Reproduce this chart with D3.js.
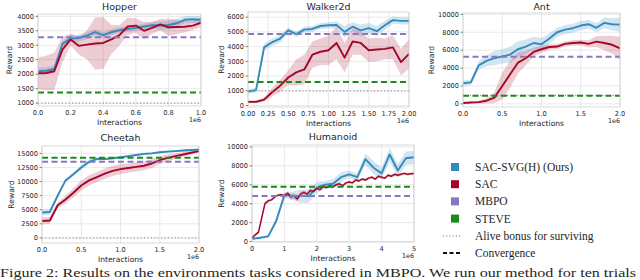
<!DOCTYPE html>
<html>
<head>
  <meta charset="utf-8">
  <script src="https://d3js.org/d3.v7.min.js"></script>
  <style>
    body { margin: 0; background: #fff; }
    svg text { font-family: "DejaVu Sans", sans-serif; fill: #262626; }
    .legend text, .caption { font-family: "Liberation Serif", serif; }
  </style>
</head>
<body>
  <div id="chart"></div>
  <script>
  // ---- data (x in 1e6 interactions) ----
  var hopperX = d3.range(0, 21).map(function(i) { return i * 0.05; });
  var hopperSvg   = [2100,2120,2180,3050,3230,3250,3330,3450,3350,3450,3520,3560,3600,3650,3690,3680,3700,3760,3880,3900,3880];
  var hopperSvgSd = [120,120,120,100,120,120,120,100,100,100,100,100,100,100,120,150,150,150,120,120,120];
  var hopperSac   = [2030,2040,2100,2850,3200,2980,3020,3060,3080,3200,3350,3650,3680,3500,3600,3720,3620,3630,3640,3680,3780];
  var hopperSacSd = [550,600,650,450,200,300,500,900,900,500,350,300,250,300,200,200,300,250,200,150,150];

  var walkerX = d3.range(0, 21).map(function(i) { return i * 0.1; });
  var walkerSvg   = [950,1050,3950,4300,4550,5100,4850,5150,5200,5400,5450,5470,5000,5350,5100,5250,5050,5450,5800,5750,5750];
  var walkerSvgSd = [150,150,250,250,250,200,200,200,200,200,200,250,400,300,400,350,350,300,250,250,250];
  var walkerSac   = [250,250,400,900,1350,1900,2250,2450,3450,3650,3750,4250,3250,4350,4250,3750,3800,3850,3950,2950,3500];
  var walkerSacSd = [100,100,150,300,400,500,900,1000,900,900,1000,1100,1000,900,800,800,800,700,800,900,1000];

  var antX = d3.range(0, 21).map(function(i) { return i * 0.1; });
  var antSvg   = [2300,2400,4300,4800,5100,5300,5500,6100,6400,6800,6650,7300,8000,8300,8450,8750,8900,8500,9050,8900,8850];
  var antSvgSd = [300,300,500,600,800,800,900,900,800,700,700,600,500,500,500,500,500,500,600,700,800];
  var antSac   = [100,150,200,350,700,2000,3300,4600,5100,5800,6100,6350,6400,6700,6800,6850,6700,6950,6800,6600,6200];
  var antSacSd = [80,100,150,300,600,1500,1500,1200,800,500,400,300,300,300,300,300,400,600,800,1000,1300];

  var cheetahX = d3.range(0, 21).map(function(i) { return i * 0.1; });
  var cheetahSvg   = [4500,4600,7500,10200,11300,12500,13500,14000,14000,14100,14300,14500,14700,14900,15000,15200,15300,15400,15500,15600,15650];
  var cheetahSvgSd = [500,500,400,300,300,400,400,300,200,200,200,200,200,200,200,200,200,200,200,200,200];
  var cheetahSac   = [3000,3100,5800,6800,8000,9300,10200,10800,11400,11900,12200,12400,12600,12800,13200,13800,14200,14500,14800,15100,15400];
  var cheetahSacSd = [600,600,500,700,800,900,900,900,900,900,900,800,800,800,800,700,600,500,400,300,300];

  var humanoidX = d3.range(0, 21).map(function(i) { return i * 0.25; });
  var humanoidSvg   = [300,400,550,2200,4900,4850,4800,4800,5700,6000,6100,6800,7100,6800,8700,7800,7200,9200,7500,8800,8900];
  var humanoidSvgSd = [100,100,100,300,300,400,700,700,600,400,500,500,400,400,600,700,600,700,700,700,700];
  var humanoidSacX = d3.range(0, 51).map(function(i) { return i * 0.1; });
  var humanoidSac = [400,700,1000,2500,4000,4300,4400,4700,4900,4950,4850,5100,4700,4800,4500,5000,5200,5000,5400,5300,
                     5600,5500,5800,5700,5900,5800,6000,6100,5900,6200,6300,6200,6500,6400,6600,6500,6700,6800,6600,6900,
                     6800,6700,7000,6900,7100,7000,7100,7200,7100,7150,7200];
  var humanoidSacSd = [100,100,150,200,200,150,150,150,150,150,150,200,300,300,300,250,200,200,200,150,
                       150,150,150,150,150,150,150,150,150,150,150,150,150,150,150,150,150,150,150,150,
                       150,150,150,150,150,150,150,150,150,150,150];

  // reference levels: [alive bonus, MBPO, STEVE]
  var hopperRef   = [1000, 3280, 1370];
  var walkerRef   = [1000, 4850, 1600];
  var antRef      = [950, 5250, 900];
  var cheetahRef  = [0, 13500, 14200];
  var humanoidRef = [null, 4800, 5800];

  var legendLabels = ["SAC-SVG(H) (Ours)", "SAC", "MBPO", "STEVE", "Alive bonus for surviving", "Convergence"];
  var caption = "Figure 2: Results on the environments tasks considered in MBPO. We run our method for ten trials";

  var BLUE = "#348abd", RED = "#a60628", PURPLE = "#8778c4", GREEN = "#1a8a1a";

  var svg = d3.select("#chart").append("svg").attr("width", 640).attr("height", 280);

  function panel(o) {
    var x = d3.scaleLinear().domain(o.xDomain).range([o.left, o.right]);
    var y = d3.scaleLinear().domain(o.yDomain).range([o.bottom, o.top]);
    var g = svg.append("g");

    g.append("rect").attr("x", o.left).attr("y", o.top)
      .attr("width", o.right - o.left).attr("height", o.bottom - o.top)
      .attr("fill", "#fff");

    // grid
    g.selectAll(".gx").data(o.xTicks).enter().append("line")
      .attr("x1", x).attr("x2", x).attr("y1", o.top).attr("y2", o.bottom)
      .attr("stroke", "#e3e3e3").attr("stroke-width", 0.8);
    g.selectAll(".gy").data(o.yTicks).enter().append("line")
      .attr("y1", y).attr("y2", y).attr("x1", o.left).attr("x2", o.right)
      .attr("stroke", "#e3e3e3").attr("stroke-width", 0.8);

    var clip = "clip-" + o.name;
    svg.append("clipPath").attr("id", clip).append("rect")
      .attr("x", o.left).attr("y", o.top).attr("width", o.right - o.left).attr("height", o.bottom - o.top);
    var inner = g.append("g").attr("clip-path", "url(#" + clip + ")");

    function band(xs, m, sd, col, op) {
      var a = d3.area().x(function(d, i) { return x(xs[i]); })
        .y0(function(d, i) { return y(m[i] - sd[i]); })
        .y1(function(d, i) { return y(m[i] + sd[i]); });
      inner.append("path").attr("d", a(m)).attr("fill", col).attr("opacity", op);
    }
    function line(xs, m, col, w) {
      var l = d3.line().x(function(d, i) { return x(xs[i]); }).y(function(d) { return y(d); });
      inner.append("path").attr("d", l(m)).attr("fill", "none").attr("stroke", col)
        .attr("stroke-width", w).attr("stroke-linejoin", "round");
    }

    band(o.svgX, o.svg, o.svgSd, BLUE, 0.22);
    band(o.sacX, o.sac, o.sacSd, RED, 0.2);
    line(o.svgX, o.svg, BLUE, 1.9);
    line(o.sacX, o.sac, RED, o.sacW || 1.9);

    function hline(v, col, dash, w) {
      if (v == null) return;
      inner.append("line").attr("x1", o.left).attr("x2", o.right)
        .attr("y1", y(v)).attr("y2", y(v))
        .attr("stroke", col).attr("stroke-width", w).attr("stroke-dasharray", dash);
    }
    hline(o.ref[0], "#9a9a9a", "1.2,2.2", 1.2);
    hline(o.ref[1], PURPLE, "6,3.5", 2);
    hline(o.ref[2], GREEN, "6,3.5", 2);

    // frame
    g.append("rect").attr("x", o.left).attr("y", o.top)
      .attr("width", o.right - o.left).attr("height", o.bottom - o.top)
      .attr("fill", "none").attr("stroke", "#d0d0d0").attr("stroke-width", 0.8);

    // ticks
    g.selectAll(".ty").data(o.yTicks).enter().append("text")
      .attr("x", o.left - 4).attr("y", function(d) { return y(d) + 2.3; })
      .attr("text-anchor", "end").attr("font-size", 6.6).text(function(d) { return d; });
    g.selectAll(".tym").data(o.yTicks).enter().append("line")
      .attr("x1", o.left - 2.5).attr("x2", o.left).attr("y1", y).attr("y2", y)
      .attr("stroke", "#555").attr("stroke-width", 0.7);
    g.selectAll(".tx").data(o.xTicks).enter().append("text")
      .attr("x", x).attr("y", o.bottom + 8.5)
      .attr("text-anchor", "middle").attr("font-size", 6.6).text(d3.format(o.xFmt));

    g.append("text").attr("x", (o.left + o.right) / 2).attr("y", o.bottom + 18.5)
      .attr("text-anchor", "middle").attr("font-size", 7.6).text("Interactions");
    g.append("text").attr("x", o.right).attr("y", o.bottom + 16)
      .attr("text-anchor", "end").attr("font-size", 6.4).text("1e6");
    g.append("text")
      .attr("transform", "translate(" + (o.left - o.labelOff) + "," + ((o.top + o.bottom) / 2) + ") rotate(-90)")
      .attr("text-anchor", "middle").attr("font-size", 7.6).text("Reward");
    g.append("text").attr("x", (o.left + o.right) / 2).attr("y", Math.max(o.top - 5, 9.5))
      .attr("text-anchor", "middle").attr("font-size", 9.5).text(o.name);
  }

  panel({ name: "Hopper", left: 38, right: 201, top: 14, bottom: 106, labelOff: 26,
    xDomain: [0, 1], yDomain: [900, 4080], xTicks: [0, 0.2, 0.4, 0.6, 0.8, 1.0], xFmt: ".1f",
    yTicks: d3.range(1000, 4001, 500),
    svgX: hopperX, svg: hopperSvg, svgSd: hopperSvgSd, sacX: hopperX, sac: hopperSac, sacSd: hopperSacSd, ref: hopperRef });

  panel({ name: "Walker2d", left: 248, right: 409, top: 12, bottom: 107, labelOff: 24,
    xDomain: [0, 2], yDomain: [-100, 6350], xTicks: d3.range(0, 2.01, 0.25), xFmt: ".2f",
    yTicks: d3.range(0, 6001, 1000),
    svgX: walkerX, svg: walkerSvg, svgSd: walkerSvgSd, sacX: walkerX, sac: walkerSac, sacSd: walkerSacSd, ref: walkerRef });

  panel({ name: "Ant", left: 463, right: 620, top: 13, bottom: 107, labelOff: 29,
    xDomain: [0, 2], yDomain: [-350, 10150], xTicks: [0, 0.5, 1.0, 1.5, 2.0], xFmt: ".1f",
    yTicks: d3.range(0, 10001, 2000),
    svgX: antX, svg: antSvg, svgSd: antSvgSd, sacX: antX, sac: antSac, sacSd: antSacSd, ref: antRef });

  panel({ name: "Cheetah", left: 42, right: 199, top: 146, bottom: 243, labelOff: 28,
    xDomain: [0, 2], yDomain: [-900, 16300], xTicks: [0, 0.5, 1.0, 1.5, 2.0], xFmt: ".1f",
    yTicks: d3.range(0, 15001, 2500),
    svgX: cheetahX, svg: cheetahSvg, svgSd: cheetahSvgSd, sacX: cheetahX, sac: cheetahSac, sacSd: cheetahSacSd, ref: cheetahRef });

  panel({ name: "Humanoid", left: 252, right: 414, top: 145, bottom: 242, labelOff: 28,
    xDomain: [0, 5], yDomain: [-50, 10200], xTicks: [0, 1, 2, 3, 4, 5], xFmt: "d",
    yTicks: d3.range(0, 10001, 2000),
    svgX: humanoidX, svg: humanoidSvg, svgSd: humanoidSvgSd, sacX: humanoidSacX, sac: humanoidSac, sacSd: humanoidSacSd,
    sacW: 1.5, ref: humanoidRef });

  // legend
  var lg = svg.append("g").attr("class", "legend");
  var ly = d3.scalePoint().domain(legendLabels).range([167, 253]);
  var swatch = [BLUE, RED, PURPLE, GREEN];
  legendLabels.forEach(function(lab, i) {
    if (i < 4) {
      lg.append("rect").attr("x", 451).attr("y", ly(lab) - 4).attr("width", 8).attr("height", 8).attr("fill", swatch[i]);
    } else if (i === 4) {
      lg.append("line").attr("x1", 443).attr("x2", 461).attr("y1", ly(lab)).attr("y2", ly(lab))
        .attr("stroke", "#9a9a9a").attr("stroke-width", 1.2).attr("stroke-dasharray", "1.2,2");
    } else {
      lg.append("line").attr("x1", 443).attr("x2", 461).attr("y1", ly(lab)).attr("y2", ly(lab))
        .attr("stroke", "#111").attr("stroke-width", 2).attr("stroke-dasharray", "4,2.5");
    }
    lg.append("text").attr("x", 475).attr("y", ly(lab) + 4).attr("font-size", 11.5).text(lab);
  });

  svg.append("text").attr("class", "caption").attr("x", 0).attr("y", 277)
    .attr("font-size", 13.5).attr("fill", "#111")
    .attr("textLength", 636).attr("lengthAdjust", "spacingAndGlyphs").text(caption);
  </script>
</body>
</html>
